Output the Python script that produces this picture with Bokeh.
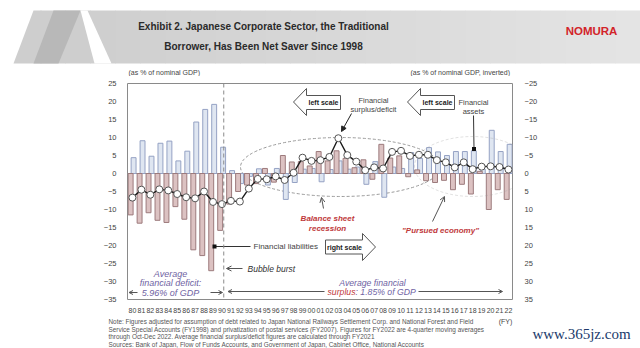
import numpy as np
from bokeh.plotting import figure
from bokeh.layouts import column
from bokeh.models import (ColumnDataSource, Range1d, LinearAxis, FixedTicker, AllLabels,
                          Span, Arrow, OpenHead, NormalHead, PolyAnnotation)
from bokeh.transform import dodge
from bokeh.core.properties import value
from bokeh.embed import file_html
from bokeh.resources import INLINE

# ---------------- data (as % of nominal GDP) ----------------
years = list(range(1980, 2023))
# financial assets (left scale)
assets = [4.4, 9.1, 4.8, 8.4, 9.0, 3.5, 6.2, 14.3, 17.8, 19.2,
          7.3, 0.8, -2.8, -0.8, 1.3, -3.2, 1.4, -7.2, -2.5, 1.2,
          1.4, -2.3, 1.1, 3.5, 1.2, 1.8, -3.0, 3.3, -6.6, 1.8,
          1.4, 5.8, 4.2, 7.2, 6.0, 5.0, 6.1, 6.1, 6.3, 1.2,
          12.0, 6.1, 8.1]
# financial liabilities (right scale, inverted)
liabilities = [11.5, 13.8, 10.9, 13.0, 13.6, 9.2, 12.7, 21.2, 22.8, 27.0,
               15.8, 8.5, 5.0, 3.2, 2.8, -1.4, 2.4, -5.0, -3.2, -3.3,
               -2.1, -6.1, -3.5, -6.3, -4.2, -1.6, -3.8, 1.6, -8.1, -4.3,
               -4.9, 0.9, -1.0, 2.0, 2.5, 1.9, 4.5, 3.0, 5.7, -0.6,
               10.0, 4.5, 7.2]
# financial surplus/deficit (left scale)
surplus = [-6.7, -4.5, -5.9, -4.4, -4.7, -5.7, -6.6, -6.9, -5.0, -7.9,
           -8.5, -7.6, -7.8, -4.2, -1.5, -1.6, -0.8, -1.8, 0.2, 4.4,
           3.5, 3.7, 4.6, 9.8, 5.1, 3.3, 0.9, 1.7, 1.4, 6.0,
           6.3, 4.9, 5.2, 5.2, 3.7, 3.1, 1.7, 3.1, 1.2, 1.9,
           2.0, 1.8, 1.1]
year_labels = ["%02d" % (y % 100) for y in years]
left_ticks = [-35, -30, -25, -20, -15, -10, -5, 0, 5, 10, 15, 20, 25]
right_ticks = [-25, -20, -15, -10, -5, 0, 5, 10, 15, 20, 25, 30, 35]
bubble_burst_year = 1990.2
title_lines = ["Exhibit 2. Japanese Corporate Sector, the Traditional",
               "Borrower, Has Been Net Saver Since 1998"]
note_lines = [
    "Note: Figures adjusted for assumption of debt related to Japan National Railways Settlement Corp. and National Forest and Field",
    "Service Special Accounts (FY1998) and privatization of postal services (FY2007). Figures for FY2022 are 4-quarter moving averages",
    "through Oct-Dec 2022. Average financial surplus/deficit figures are calculated through FY2021",
    "Sources: Bank of Japan, Flow of Funds Accounts, and Government of Japan, Cabinet Office, National Accounts",
]
avg_deficit = "5.96% of GDP"
avg_surplus = "1.85% of GDP"

FONT = value("Liberation Sans")
GREY_TXT = "#444444"
PURPLE = "#6f63a3"
RED = "#c0393b"


def bare(fig):
    fig.grid.visible = False
    fig.outline_line_color = None
    if hasattr(fig, "frame_align"):
        fig.frame_align = False


# ---------------- header ----------------
hdr = figure(width=640, height=76, x_range=Range1d(0, 640), y_range=Range1d(76, 0),
             output_backend="svg", toolbar_location=None,
             x_axis_location=None, y_axis_location=None,
             min_border=0, min_border_left=0, min_border_right=0,
             min_border_top=0, min_border_bottom=0)
bare(hdr)

n = 24
xs_edges = np.linspace(40, 640, n + 1)
cols = []
for i in range(n):
    v = int(206 + (228 - 206) * i / (n - 1))
    cols.append("#%02x%02x%02x" % (v, v, v))
hdr.quad(left=xs_edges[:-1], right=xs_edges[1:] + 0.5, top=10, bottom=63,
         fill_color=cols, line_color=None)
hdr.patch([33, 41, 41, 13], [10, 10, 63, 63], fill_color="#cecece", line_color=None)
hdr.patch([53, 80, 58, 33], [10, 10, 63, 63], fill_color="#b8b8b8", line_color=None)
hdr.patch([80, 87, 111, 94], [10, 10, 63, 63], fill_color="#ffffff", line_color=None)

hdr.text(x=[263, 263], y=[25.5, 46], text=title_lines, text_font=FONT,
         text_font_style="bold", text_font_size="10px", text_align="center",
         text_baseline="middle", text_color="#2a2a2a")
hdr.text(x=[591], y=[30.5], text=["NOMURA"], text_font=FONT, text_font_style="bold",
         text_font_size="11.5px", text_align="center", text_baseline="middle",
         text_color="#d2232a")
hdr.text(x=[128, 410], y=[72, 72],
         text=["(as % of nominal GDP)", "(as % of nominal GDP, inverted)"],
         text_font=FONT, text_font_size="7px", text_align="left",
         text_baseline="middle", text_color=GREY_TXT)

# ---------------- main chart ----------------
p = figure(width=640, height=240, x_range=Range1d(1979.45, 2022.45),
           y_range=Range1d(-35, 25), output_backend="svg", toolbar_location=None,
           min_border_left=127, min_border_right=128, min_border_top=7,
           min_border_bottom=17)
if hasattr(p, "frame_align"):
    p.frame_align = False
p.extra_y_ranges = {"right": Range1d(35, -25)}
p.grid.visible = False
p.outline_line_color = "#8a8a8a"
p.outline_line_width = 1

PXX = 385.0 / 43.0
PXY = 3.6


def X(px):
    return 1979.45 + (px - 127) / PXX


def Y(py):
    return 25 - (py - 83) / PXY


def style_axis(ax, size="7.5px"):
    ax.axis_line_color = None
    ax.major_tick_line_color = None
    ax.minor_tick_line_color = None
    ax.major_label_text_font = "Liberation Sans"
    ax.major_label_text_font_size = size
    ax.major_label_text_color = GREY_TXT


p.xaxis.ticker = FixedTicker(ticks=years)
p.xaxis.major_label_overrides = {y: l for y, l in zip(years, year_labels)}
p.xaxis.major_label_policy = AllLabels()
p.xaxis.major_label_standoff = 2
style_axis(p.xaxis[0], "7px")
p.yaxis.ticker = FixedTicker(ticks=left_ticks)
p.yaxis.major_label_standoff = 5
style_axis(p.yaxis[0])
ra = LinearAxis(y_range_name="right", ticker=FixedTicker(ticks=right_ticks),
                major_label_standoff=6)
style_axis(ra)
p.add_layout(ra, "right")

src = ColumnDataSource(dict(year=years, assets=assets, liab=liabilities, surplus=surplus))

# dashed ellipses
p.ellipse(x=[X(340)], y=[Y(166.5)], width=[200 / PXX], height=[59 / PXY],
          fill_color=None, line_color="#9a9a9a", line_dash="3 2", line_width=1)
t = np.linspace(0, 2 * np.pi, 90)
cx, cy, a, b = X(472), Y(166), 58 / PXX, 30 / PXY
p.add_layout(PolyAnnotation(xs=list(cx + a * np.cos(t)), ys=list(cy + b * np.sin(t)),
                            fill_alpha=0, line_color="#9a9a9a", line_dash="3 2",
                            line_width=1))

p.add_layout(Span(location=0, dimension="width", line_color="#9a9a9a", line_width=1,
                  level="underlay"))

p.vbar(x=dodge("year", 0.13, range=p.x_range), top="assets", bottom=0, width=0.55,
       source=src, fill_color="#dfe6f1", line_color="#95a2c4", line_width=1)
p.vbar(x=dodge("year", -0.2, range=p.x_range), top="liab", bottom=0, width=0.55,
       source=src, y_range_name="right", fill_color="#dcc2c2", line_color="#9c7a7c",
       line_width=1)

p.add_layout(Span(location=bubble_burst_year, dimension="height", line_color="#8a8a8a",
                  line_dash="4 3", line_width=1))

p.line(x="year", y="surplus", source=src, line_color="#1a1a1a", line_width=1.4)
p.scatter(x="year", y="surplus", source=src, size=7, marker="circle",
          fill_color="white", line_color="#555555", line_width=1)


# ---- annotation helpers ----
def txt(px, py, s, size="7.5px", color=GREY_TXT, style="normal", align="center"):
    p.text(x=[X(px)], y=[Y(py)], text=[s], text_font=FONT, text_font_size=size,
           text_color=color, text_font_style=style, text_align=align,
           text_baseline="middle")


def arrow(x0, y0, x1, y1, head="open", size=5, color="#555555"):
    if head == "open":
        h = OpenHead(size=size, line_color=color, line_width=1)
    else:
        h = NormalHead(size=size, fill_color=color, line_color=color)
    p.add_layout(Arrow(end=h, x_start=X(x0), y_start=Y(y0), x_end=X(x1), y_end=Y(y1),
                       line_color=color, line_width=1))


def box_arrow(pts):
    p.patch([X(a_) for a_, _ in pts], [Y(b_) for _, b_ in pts],
            fill_color="white", line_color="#555555", line_width=1)


# left scale arrows
box_arrow([(293, 101.5), (306, 88), (306, 95), (340, 95), (340, 109), (306, 109), (306, 115)])
txt(323, 102, "left scale", size="7px", color="#222222", style="bold")
box_arrow([(407, 101.5), (420, 88), (420, 95), (454, 95), (454, 109), (420, 109), (420, 115)])
txt(437, 102, "left scale", size="7px", color="#222222", style="bold")
# right scale arrow
box_arrow([(325, 239.5), (362, 239.5), (362, 233), (375, 246.5), (362, 260), (362, 253.5), (325, 253.5)])
txt(344, 246.5, "right scale", size="7px", color="#222222", style="bold")

# financial surplus/deficit label
txt(373, 99.5, "Financial")
txt(373, 108.5, "surplus/deficit")
arrow(351, 113, 341, 131, head="normal", size=5, color="#222222")

# financial assets label
txt(473, 101.5, "Financial")
txt(473, 110.5, "assets")
p.segment(x0=[X(473)], y0=[Y(115)], x1=[X(473.5)], y1=[Y(148)], line_color="#333333",
          line_width=1)
p.scatter(x=[X(473.5)], y=[Y(148.5)], size=4, marker="square", fill_color="#111111",
          line_color=None)

# financial liabilities label
p.segment(x0=[X(214)], y0=[Y(246)], x1=[X(250)], y1=[Y(246)], line_color="#333333",
          line_width=1)
p.scatter(x=[X(214)], y=[Y(246)], size=4, marker="square", fill_color="#111111",
          line_color=None)
txt(253, 246, "Financial liabilities", size="8px", align="left")

# bubble burst
arrow(242, 268, 226, 268)
txt(247, 268, "Bubble burst", size="8.5px", style="italic", align="left", color="#333333")

# balance sheet recession
txt(327, 218, "Balance sheet", size="8px", color=RED, style="bold italic")
txt(327, 228, "recession", size="8px", color=RED, style="bold italic")
arrow(323, 208, 321, 197)

# pursued economy
txt(440, 229.5, "\"Pursued economy\"", size="8px", color=RED, style="bold italic")
arrow(432, 221, 444, 196)

# average financial deficit
txt(170, 273.5, "Average", size="9px", color=PURPLE, style="italic")
txt(170, 282.5, "financial deficit:", size="9px", color=PURPLE, style="italic")
txt(170, 292, avg_deficit, size="9px", color=PURPLE, style="italic")
arrow(137, 292, 128.5, 292, size=4)
arrow(210, 292, 222, 292, size=4)

# average financial surplus
txt(372, 282, "Average financial", size="8.7px", color=PURPLE, style="italic")
txt(355, 291, "surplus", size="8.7px", color=RED, style="italic", align="right")
txt(355, 291, ": " + avg_surplus, size="8.7px", color=PURPLE, style="italic", align="left")
arrow(324, 291, 227.5, 291, size=4)
arrow(418, 291, 502, 291, size=4)

# ---------------- footer ----------------
ftr = figure(width=640, height=32, x_range=Range1d(0, 640), y_range=Range1d(348, 316),
             output_backend="svg", toolbar_location=None,
             x_axis_location=None, y_axis_location=None,
             min_border=0, min_border_left=0, min_border_right=0,
             min_border_top=0, min_border_bottom=0)
bare(ftr)
ftr.text(x=[108] * 4, y=[321, 328.5, 336, 343.5], text=note_lines, text_font=FONT,
         text_font_size="6.4px", text_align="left", text_baseline="middle",
         text_color="#555555")
ftr.text(x=[505], y=[321], text=["(FY)"], text_font=FONT, text_font_size="7px",
         text_align="center", text_baseline="middle", text_color=GREY_TXT)
ftr.text(x=[581], y=[333], text=["www.365jz.com"], text_font=value("Liberation Serif"),
         text_font_size="15px", text_align="center", text_baseline="middle",
         text_color="#203a6b")

layout = column(hdr, p, ftr, spacing=0)
open("out.html", "w").write(file_html(layout, INLINE))
